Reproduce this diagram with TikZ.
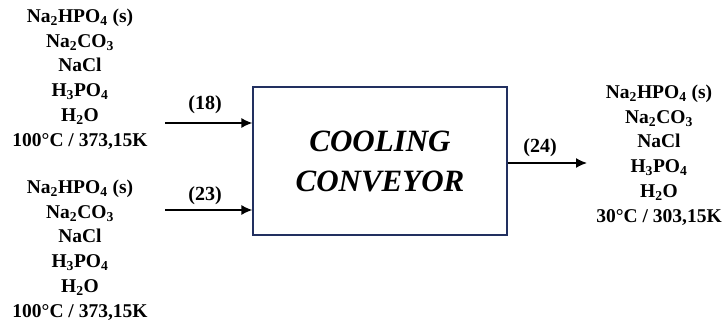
\documentclass[tikz,border=0pt]{standalone}
\usepackage{fontspec}
\setmainfont{Liberation Serif}
\usetikzlibrary{arrows.meta,positioning,calc}
\definecolor{boxNavy}{HTML}{223060}

\begin{document}
\begin{tikzpicture}[x=1pt,y=1pt,
  stream/.style={align=center,font=\fontsize{19.5}{24.7}\selectfont\bfseries,inner sep=0pt},
  unit/.style={rectangle,draw=boxNavy,line width=1.2pt,minimum width=254pt,minimum height=148pt,
    font=\fontsize{31}{40}\selectfont\bfseries\itshape,align=center},
  flow/.style={draw=black,line width=1.4pt,-{Latex[length=11pt,width=10pt]}},
  tag/.style={font=\fontsize{20}{22}\selectfont\bfseries,inner sep=1pt}
]
\useasboundingbox (0,0) rectangle (724,325);
% process unit
\node[unit] (cc) at (380,164) {COOLING\\CONVEYOR};
% stream compositions
\node[stream] (s18) at (80,246) {Na\textsubscript{2}HPO\textsubscript{4} (s)\\Na\textsubscript{2}CO\textsubscript{3}\\NaCl\\H\textsubscript{3}PO\textsubscript{4}\\H\textsubscript{2}O\\100°C / 373,15K};
\node[stream] (s23) at (80,75) {Na\textsubscript{2}HPO\textsubscript{4} (s)\\Na\textsubscript{2}CO\textsubscript{3}\\NaCl\\H\textsubscript{3}PO\textsubscript{4}\\H\textsubscript{2}O\\100°C / 373,15K};
\node[stream] (s24) at (659,170) {Na\textsubscript{2}HPO\textsubscript{4} (s)\\Na\textsubscript{2}CO\textsubscript{3}\\NaCl\\H\textsubscript{3}PO\textsubscript{4}\\H\textsubscript{2}O\\30°C / 303,15K};
% stream lines
\coordinate (in18) at (165,202);
\coordinate (in23) at (165,115);
\coordinate (out24) at (587,162);
\draw[flow] (in18) -- (cc.west |- in18);
\draw[flow] (in23) -- (cc.west |- in23);
\draw[flow] (cc.east |- out24) -- (out24);
\node[tag] (t18) at (205,220) {(18)};
\node[tag] (t23) at (205,129) {(23)};
\node[tag] (t24) at (540,177) {(24)};
\end{tikzpicture}
\end{document}
